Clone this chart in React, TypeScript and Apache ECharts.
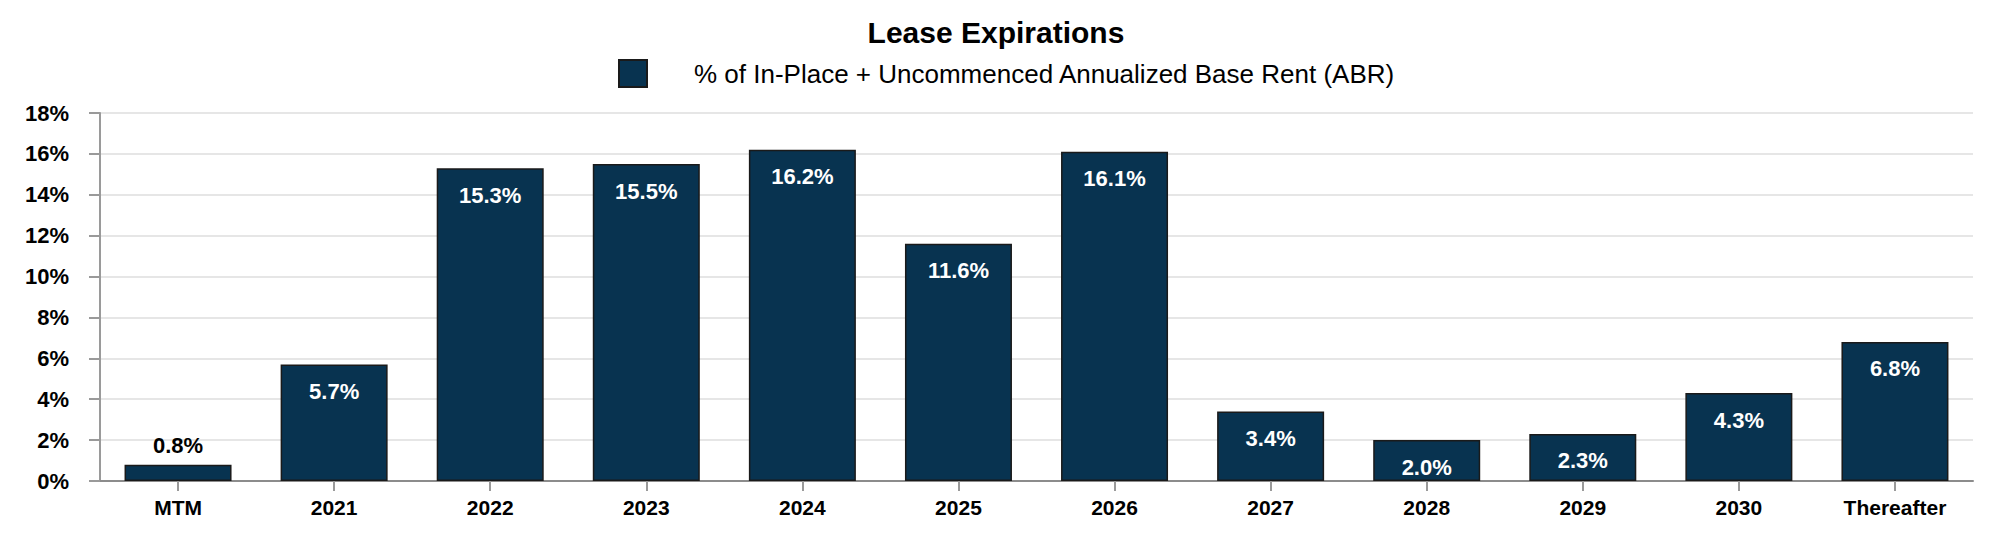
import React, { useEffect, useRef } from "react";
import * as echarts from "echarts";

const categories: string[] = ["MTM", "2021", "2022", "2023", "2024", "2025", "2026", "2027", "2028", "2029", "2030", "Thereafter"];
const abrShare: number[] = [0.8, 5.7, 15.3, 15.5, 16.2, 11.6, 16.1, 3.4, 2.0, 2.3, 4.3, 6.8];
const seriesName = "% of In-Place + Uncommenced Annualized Base Rent (ABR)";
const titleText = "Lease Expirations";
const outsideLabelCategories: string[] = ["MTM"];

const FONT = "'Liberation Sans', Arial, Helvetica, sans-serif";
const BAR_COLOR = "#083350";

export default function App() {
  const ref = useRef<HTMLDivElement>(null);

  useEffect(() => {
    if (!ref.current) return;
    const chart = echarts.init(ref.current, undefined, { renderer: "svg" });

    const data = abrShare.map((v, i) => {
      const outside = outsideLabelCategories.includes(categories[i]);
      return outside
        ? { value: v, label: { position: "top", color: "#000000", distance: 8 } }
        : { value: v };
    });

    chart.setOption({
      animation: false,
      backgroundColor: "#ffffff",
      textStyle: { fontFamily: FONT },
      title: {
        text: titleText,
        left: "center",
        top: 12,
        padding: 5,
        textStyle: { fontFamily: FONT, fontSize: 30, fontWeight: "bold", color: "#000000" },
      },
      legend: {
        data: [seriesName],
        left: 613,
        top: 54,
        padding: 5,
        itemWidth: 28,
        itemHeight: 27,
        icon: "rect",
        textStyle: {
          fontFamily: FONT,
          fontSize: 26,
          color: "#000000",
          padding: [0, 0, 0, 42],
        },
      },
      grid: { left: 100, right: 19, top: 113, bottom: 59, containLabel: false },
      xAxis: {
        type: "category",
        data: categories,
        axisLine: { show: true, lineStyle: { color: "#8c8c8c", width: 2 } },
        axisTick: { show: true, alignWithLabel: true, length: 10, lineStyle: { color: "#9a9a9a", width: 2 } },
        axisLabel: { fontFamily: FONT, fontSize: 21, fontWeight: "bold", color: "#000000", margin: 16 },
      },
      yAxis: {
        type: "value",
        min: 0,
        max: 18,
        interval: 2,
        axisLine: { show: true, lineStyle: { color: "#9a9a9a", width: 2 } },
        axisTick: { show: true, length: 11, lineStyle: { color: "#9a9a9a", width: 2 } },
        axisLabel: {
          fontFamily: FONT,
          fontSize: 22,
          fontWeight: "bold",
          color: "#000000",
          margin: 31,
          formatter: "{value}%",
        },
        splitLine: { show: true, lineStyle: { color: "#e6e6e6", width: 2 } },
      },
      series: [
        {
          name: seriesName,
          type: "bar",
          data,
          barWidth: 107,
          itemStyle: { color: BAR_COLOR, borderColor: "#1a1a1a", borderWidth: 1.5 },
          label: {
            show: true,
            position: "insideTop",
            distance: 16,
            fontFamily: FONT,
            fontSize: 22,
            fontWeight: "bold",
            color: "#ffffff",
            formatter: (p: any) => Number(p.value).toFixed(1) + "%",
          },
        },
      ],
    });

    return () => chart.dispose();
  }, []);

  return (
    <div
      ref={ref}
      style={{ position: "fixed", left: 0, top: 0, width: 1992, height: 540, background: "#ffffff" }}
    />
  );
}
